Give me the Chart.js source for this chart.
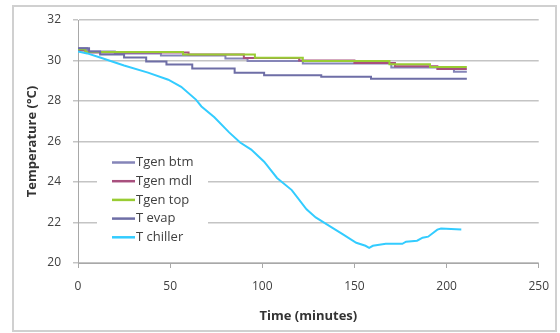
<!DOCTYPE html>
<html>
<head>
<meta charset="utf-8">
<script src="https://cdn.jsdelivr.net/npm/chart.js@4/dist/chart.umd.min.js"></script>
<style>
    html, body { margin: 0; padding: 0; background: #fff; }
    #wrap { position: relative; width: 560px; height: 333px; }
</style>
</head>
<body>
<div id="wrap"><canvas id="tempChart" width="560" height="333"></canvas></div>
<script>
// --- Data (time in minutes, temperature in °C) ---
const seriesLabels = ['Tgen btm', 'Tgen mdl', 'Tgen top', 'T evap', 'T chiller'];
const seriesColors = ['#8585b8', '#a8507e', '#99cc33', '#6e6ea6', '#33ccff'];

const btmTimes = [0, 5, 20, 45, 80, 92, 122, 170, 204, 211];
const btmTemps = [30.6, 30.45, 30.35, 30.25, 30.1, 29.98, 29.85, 29.65, 29.45, 29.45];

const mdlTimes = [0, 4, 60, 90, 120, 150, 172, 195, 211];
const mdlTemps = [30.5, 30.4, 30.3, 30.12, 30.0, 29.88, 29.72, 29.58, 29.58];

const topTimes = [0, 4, 57, 96, 122, 169, 191, 211];
const topTemps = [30.55, 30.42, 30.3, 30.13, 29.97, 29.82, 29.68, 29.68];

const evapTimes = [0, 6, 12, 25, 37, 48, 62, 85, 101, 132, 159, 211];
const evapTemps = [30.6, 30.45, 30.3, 30.15, 29.95, 29.8, 29.6, 29.4, 29.27, 29.2, 29.1, 29.1];

const chillerTimes = [0, 5, 12, 25, 38, 49, 56, 64, 67, 74, 82, 88, 94, 101, 108, 116, 124, 129, 137, 144, 151, 156, 158, 160, 167, 176, 178, 184, 187, 190, 195, 197, 208];
const chillerTemps = [30.45, 30.35, 30.15, 29.75, 29.4, 29.05, 28.7, 28.07, 27.73, 27.2, 26.45, 25.95, 25.6, 25.0, 24.2, 23.6, 22.65, 22.25, 21.8, 21.4, 21.0, 20.85, 20.75, 20.85, 20.95, 20.95, 21.05, 21.1, 21.25, 21.3, 21.65, 21.7, 21.65];

const xTicks = [0, 50, 100, 150, 200, 250];
const yTicks = [20, 22, 24, 26, 28, 30, 32];

function toPoints(times, temps) {
    return times.map((t, i) => ({ x: t, y: temps[i] }));
}

const FONT = "'Open Sans', 'Liberation Sans', sans-serif";

// Outer frame + legend box drawn inside the plot, like the Excel original
const frameAndLegend = {
    id: 'frameAndLegend',
    beforeDraw(chart) {
        const ctx = chart.ctx;
        ctx.save();
        ctx.fillStyle = '#fff';
        ctx.fillRect(0, 0, chart.width, chart.height);
        ctx.strokeStyle = '#d0d0d0';
        ctx.lineWidth = 2;
        ctx.strokeRect(13, 6, 543, 325);
        ctx.restore();
    },
    afterDatasetsDraw(chart) {
        const ctx = chart.ctx;
        const area = chart.chartArea;
        const boxX = area.left + 19;
        const boxY = area.top + 130;
        ctx.save();
        ctx.fillStyle = '#fff';
        ctx.fillRect(boxX, boxY, 111, 100);
        ctx.font = '13px ' + FONT;
        ctx.textBaseline = 'middle';
        chart.data.datasets.forEach((ds, i) => {
            const y = boxY + 12.5 + i * 18.7;
            ctx.strokeStyle = ds.borderColor;
            ctx.lineWidth = 2.5;
            ctx.beginPath();
            ctx.moveTo(boxX + 15, y);
            ctx.lineTo(boxX + 38, y);
            ctx.stroke();
            ctx.fillStyle = '#404040';
            ctx.fillText(ds.label, boxX + 39, y);
        });
        ctx.restore();
    }
};

const allSeries = [
    toPoints(btmTimes, btmTemps),
    toPoints(mdlTimes, mdlTemps),
    toPoints(topTimes, topTemps),
    toPoints(evapTimes, evapTemps),
    toPoints(chillerTimes, chillerTemps)
];

const datasets = allSeries.map((pts, i) => ({
    label: seriesLabels[i],
    data: pts,
    borderColor: seriesColors[i],
    backgroundColor: seriesColors[i],
    borderWidth: 2,
    pointRadius: 0,
    stepped: i < 4 ? 'before' : false,
    tension: 0,
    // later series sit on top, as in Excel
    order: seriesLabels.length - i
}));

new Chart(document.getElementById('tempChart'), {
    type: 'line',
    data: { datasets: datasets },
    options: {
        responsive: false,
        animation: false,
        layout: { padding: { left: 14, right: 14, top: 20, bottom: 5 } },
        plugins: {
            legend: { display: false },
            tooltip: { enabled: false }
        },
        scales: {
            x: {
                type: 'linear',
                min: 0,
                max: 250,
                afterBuildTicks: scale => { scale.ticks = xTicks.map(v => ({ value: v })); },
                ticks: { color: '#404040', font: { family: FONT, size: 12 }, padding: 11 },
                grid: { drawOnChartArea: false, drawTicks: true, tickLength: 5, color: '#a8a8a8', lineWidth: 1 },
                border: { display: true, color: '#a8a8a8', width: 1 },
                title: {
                    display: true,
                    text: 'Time (minutes)',
                    color: '#333',
                    font: { family: FONT, size: 13, weight: 'bold' },
                    padding: { top: 2, bottom: 4 }
                },
                afterFit: scale => { scale.height = 65; }
            },
            y: {
                min: 20,
                max: 32,
                afterBuildTicks: scale => { scale.ticks = yTicks.map(v => ({ value: v })); },
                ticks: { color: '#404040', font: { family: FONT, size: 12 }, padding: 12 },
                grid: { color: '#c4c4c4', lineWidth: 1.5, tickLength: 5 },
                border: { display: true, color: '#a8a8a8', width: 1 },
                title: {
                    display: true,
                    text: 'Temperature (°C)',
                    color: '#333',
                    font: { family: FONT, size: 13, weight: 'bold' },
                    padding: { top: 10, bottom: 4 }
                },
                afterFit: scale => { scale.width = 64; }
            }
        }
    },
    plugins: [frameAndLegend]
});
</script>
</body>
</html>
